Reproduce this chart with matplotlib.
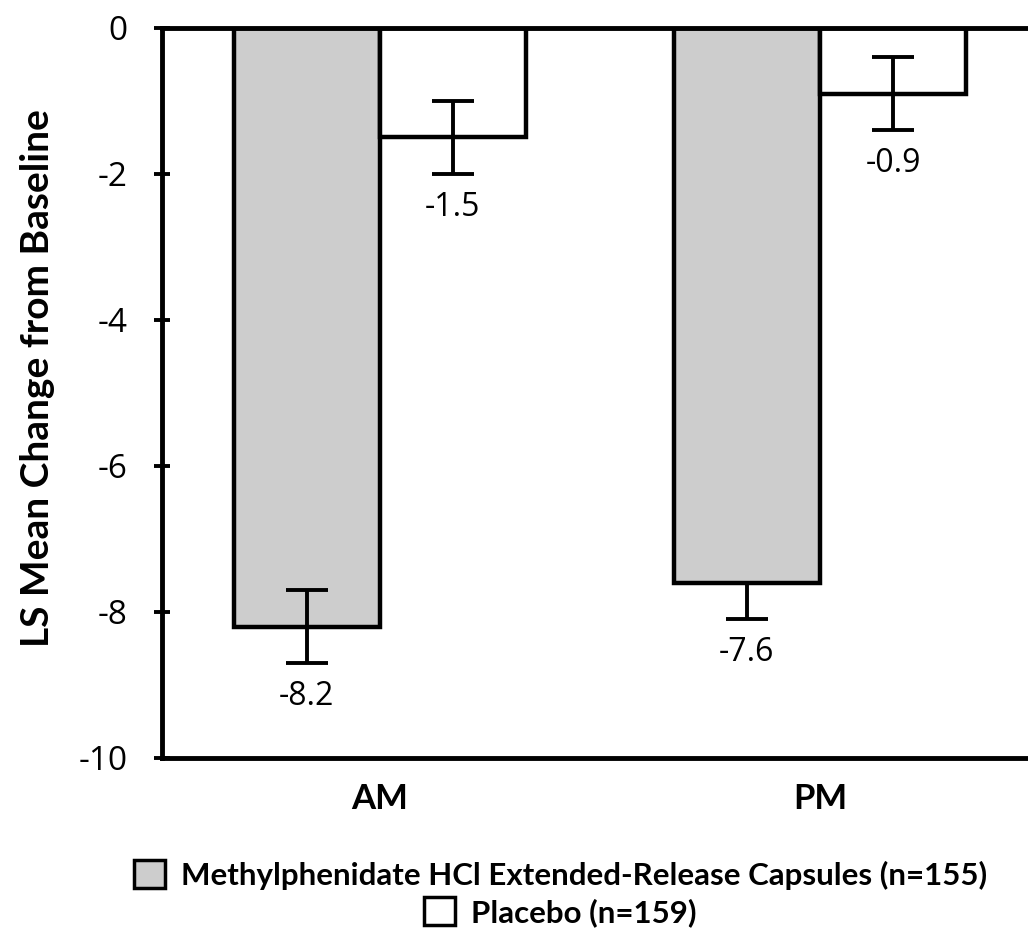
import matplotlib
matplotlib.use("Agg")
import matplotlib.pyplot as plt
from matplotlib.patches import Patch

# dados
grupos = ["AM", "PM"]
droga = [-8.2, -7.6]
placebo = [-1.5, -0.9]
# erro (abaixo, acima) - no PM a barra cinza esconde a parte de cima
droga_err_baixo = [0.5, 0.5]
droga_err_cima = [0.5, 0.0]
placebo_err = [0.5, 0.5]
yticks = [0, -2, -4, -6, -8, -10]
nome_droga = "Methylphenidate HCl Extended-Release Capsules (n=155)"
nome_placebo = "Placebo (n=159)"

fonte_num = ["Open Sans", "DejaVu Sans"]
fonte_bold = ["Lato", "DejaVu Sans"]

fig = plt.figure(figsize=(10.28, 9.3), dpi=100)
ax = fig.add_axes([0.1576, 0.18495, 0.9397, 0.78495])

x = range(len(grupos))
w = 0.332
xd = [i - w / 2 for i in x]
xp = [i + w / 2 for i in x]

ax.bar(xd, droga, width=w, color="#cdcdcd", edgecolor="black", linewidth=3.2, zorder=2)
ax.bar(xp, placebo, width=w, color="white", edgecolor="black", linewidth=3.2, zorder=2)

ax.errorbar(xd, droga, yerr=[droga_err_baixo, droga_err_cima], fmt="none",
            ecolor="black", elinewidth=2.8, capsize=14.8, capthick=2.8, zorder=3)
ax.errorbar(xp, placebo, yerr=[placebo_err, placebo_err], fmt="none",
            ecolor="black", elinewidth=2.8, capsize=14.8, capthick=2.8, zorder=3)

# rotulos dos valores abaixo da barra de erro
for xi, v, e in zip(xd, droga, droga_err_baixo):
    ax.annotate(f"{v}", (xi, v - e), xytext=(0, -12), textcoords="offset points",
                ha="center", va="top", fontsize=23, family=fonte_num)
for xi, v, e in zip(xp, placebo, placebo_err):
    ax.annotate(f"{v}", (xi, v - e), xytext=(0, -12), textcoords="offset points",
                ha="center", va="top", fontsize=23, family=fonte_num)

ax.set_xlim(-0.495, 1.7)
ax.set_ylim(-10, 0)
ax.set_yticks(yticks)
ax.set_yticklabels([str(t) for t in yticks], fontsize=24, family=fonte_num)
ax.set_xticks(list(x))
ax.set_xticklabels(grupos, fontsize=25, fontweight="bold", family=fonte_bold)
ax.tick_params(axis="y", direction="inout", length=11, width=2.8, pad=19)
ax.tick_params(axis="x", length=0, pad=18)
for s in ax.spines.values():
    s.set_linewidth(3.5)

ax.set_ylabel("LS Mean Change from Baseline", fontsize=28, fontweight="bold",
              family=fonte_bold)
ax.yaxis.set_label_coords(-0.111, 0.52)

h1 = Patch(facecolor="#cdcdcd", edgecolor="black", linewidth=2.5)
h2 = Patch(facecolor="white", edgecolor="black", linewidth=2.5)
leg_font = {"family": fonte_bold, "weight": "bold", "size": 22.5}
l1 = fig.legend([h1], [nome_droga], loc="center", bbox_to_anchor=(0.545, 0.059),
                frameon=False, prop=leg_font, handlelength=1.0, handleheight=1.0,
                handletextpad=0.5, borderpad=0, borderaxespad=0)
l2 = fig.legend([h2], [nome_placebo], loc="center", bbox_to_anchor=(0.545, 0.019),
                frameon=False, prop=leg_font, handlelength=1.0, handleheight=1.0,
                handletextpad=0.5, borderpad=0, borderaxespad=0)

fig.savefig("out.png", dpi=100)
